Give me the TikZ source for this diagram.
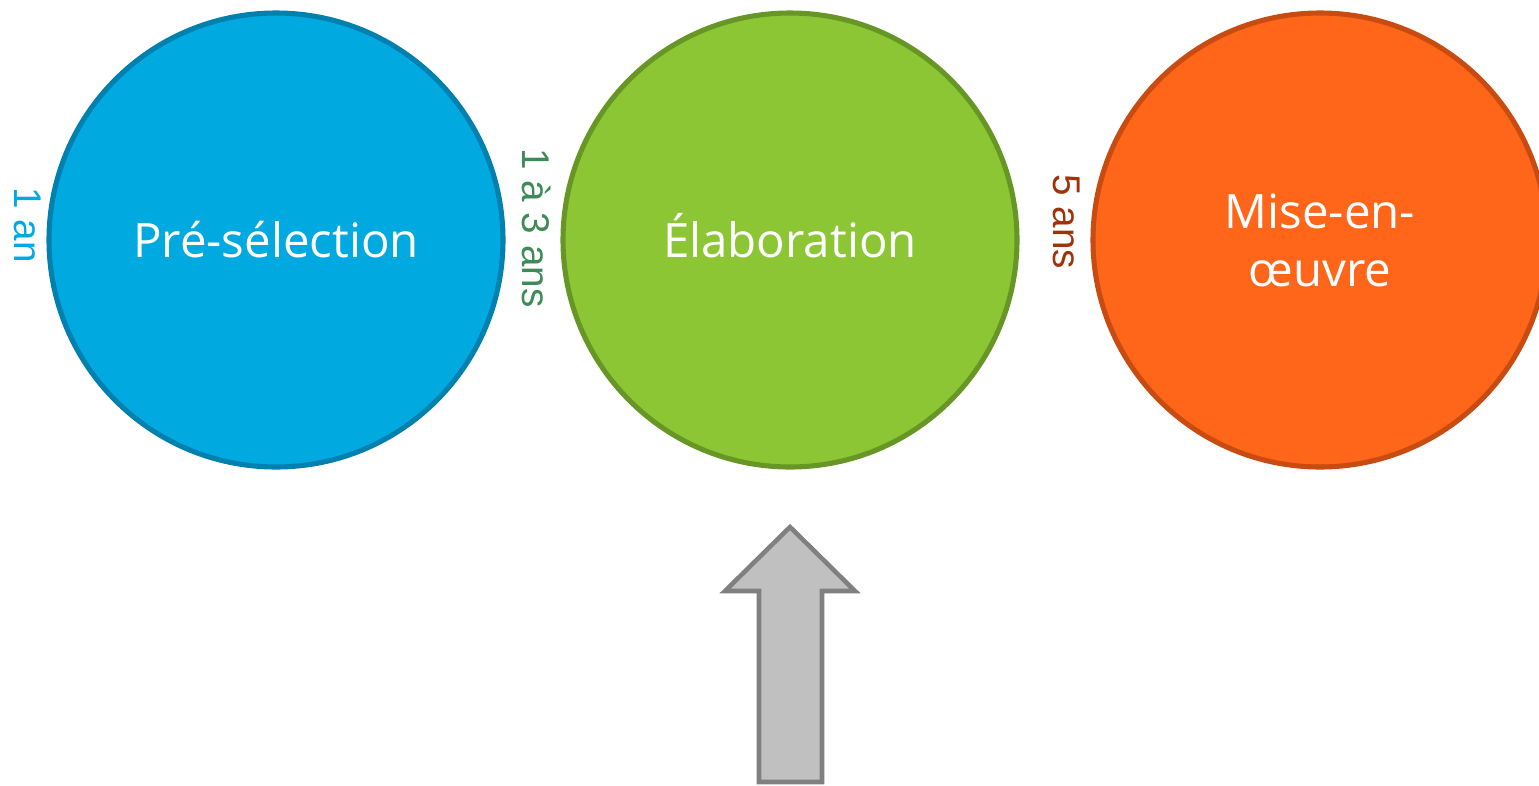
\documentclass[tikz,border=0pt]{standalone}
\usepackage{fontspec}
\setmainfont{Open Sans}
\newfontfamily\lblfont{Liberation Sans}
\definecolor{bfill}{RGB}{0,169,224}
\definecolor{bline}{RGB}{0,128,174}
\definecolor{gfill}{RGB}{141,198,52}
\definecolor{gline}{RGB}{104,150,38}
\definecolor{ofill}{RGB}{255,102,26}
\definecolor{oline}{RGB}{200,75,18}
\definecolor{glbl}{RGB}{62,138,88}
\definecolor{olbl}{RGB}{160,50,10}
\definecolor{afill}{RGB}{192,192,192}
\definecolor{aline}{RGB}{128,128,128}
\begin{document}
\begin{tikzpicture}[x=0.02cm,y=-0.02cm,
  phase/.style={circle,minimum size=454*0.02cm,inner sep=0pt,line width=2.9pt,
    text=white,font=\fontsize{27}{32}\selectfont,align=center},
  dur/.style={rotate=-90,font=\lblfont\fontsize{22}{26}\selectfont,inner sep=0pt}]
\useasboundingbox (0,0) rectangle (1539,785);
\begin{scope}
\clip (0,0) rectangle (1539,785);
\node[phase,fill=bfill,draw=bline] (pre) at (276,240) {\raisebox{-0.36em}[0pt][0pt]{Pré-sélection}};
\node[phase,fill=gfill,draw=gline] (ela) at (790,240) {\raisebox{-0.36em}[0pt][0pt]{Élaboration}};
\node[phase,fill=ofill,draw=oline] (mise) at (1320,240) {Mise-en-\\[1pt]œuvre};
\end{scope}
\node[dur,text=bfill] (d1) at (28,225) {1 an};
\node[dur,text=glbl] (d2) at (537,228) {1 à 3 ans};
\node[dur,text=olbl] (d3) at (1067,222) {5 ans};
\coordinate (tip) at (790,527);
\draw[fill=afill,draw=aline,line width=2.6pt,line join=miter]
  (tip) -- (855,591) -- (822,591) -- (822,782) -- (759,782) -- (759,591) -- (725,591) -- cycle;
\end{tikzpicture}
\end{document}
